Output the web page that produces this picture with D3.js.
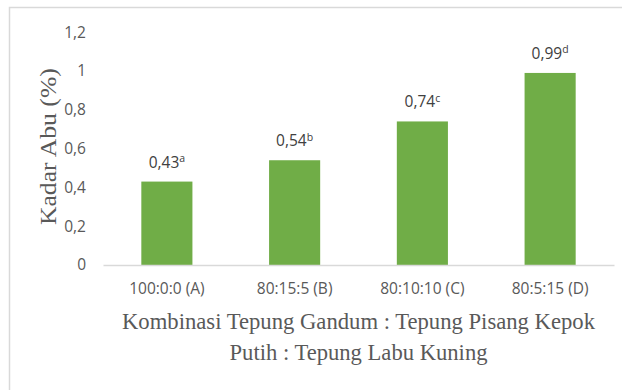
<!DOCTYPE html>
<html>
<head>
<meta charset="utf-8">
<script src="https://cdn.jsdelivr.net/npm/d3@7"></script>
<style>
  html, body { margin: 0; padding: 0; background: #fff; }
  svg { display: block; }
</style>
</head>
<body>
<div id="chart"></div>
<script>
// Ash content per flour combination
const categories = ["100:0:0 (A)", "80:15:5 (B)", "80:10:10 (C)", "80:5:15 (D)"];
const values = [0.43, 0.54, 0.74, 0.99];
const letters = ["a", "b", "c", "d"];
const tickValues = [0, 0.2, 0.4, 0.6, 0.8, 1, 1.2];
const tickLabels = ["0", "0,2", "0,4", "0,6", "0,8", "1", "1,2"];
const yTitle = "Kadar Abu (%)";
const xTitleLines = ["Kombinasi Tepung Gandum : Tepung Pisang Kepok", "Putih : Tepung Labu Kuning"];

const W = 622, H = 390;
const plot = { left: 103, right: 614, top: 32.2, bottom: 265 };

const svg = d3.select("#chart").append("svg")
  .attr("width", W).attr("height", H);

// chart frame
svg.append("rect")
  .attr("x", 9.5).attr("y", 7.5)
  .attr("width", 700).attr("height", 500)
  .attr("fill", "none")
  .attr("stroke", "#d9d9d9").attr("stroke-width", 1.5);

const x = d3.scaleBand()
  .domain(categories)
  .range([plot.left, plot.right])
  .paddingInner(0.6)
  .paddingOuter(0.3);

const y = d3.scaleLinear()
  .domain([0, 1.2])
  .range([plot.bottom, plot.top]);

const sans = "'Open Sans', 'Noto Sans', sans-serif";
const serif = "'Liberation Serif', 'Times New Roman', serif";

// y axis labels (no axis line, no gridlines)
const yAxis = d3.axisLeft(y)
  .tickValues(tickValues)
  .tickFormat((d, i) => tickLabels[i])
  .tickSize(0)
  .tickPadding(17);

const gy = svg.append("g")
  .attr("transform", `translate(${plot.left},0)`)
  .call(yAxis);
gy.select(".domain").remove();
gy.selectAll("text")
  .attr("font-family", sans)
  .attr("font-size", 15.5)
  .attr("fill", "#595959");

// bars
svg.append("g").selectAll("rect")
  .data(values)
  .join("rect")
  .attr("x", (d, i) => x(categories[i]))
  .attr("y", d => y(d))
  .attr("width", x.bandwidth())
  .attr("height", d => y(0) - y(d))
  .attr("fill", "#70ad47");

// category axis
const xAxis = d3.axisBottom(x).tickSize(0).tickPadding(18);
const gx = svg.append("g")
  .attr("transform", `translate(0,${plot.bottom})`)
  .call(xAxis);
gx.select(".domain")
  .attr("stroke", "#d9d9d9")
  .attr("stroke-width", 1.5);
gx.selectAll("text")
  .attr("font-family", sans)
  .attr("font-size", 15.5)
  .attr("fill", "#595959");

// value labels with significance letters
const lab = svg.append("g").selectAll("text")
  .data(values)
  .join("text")
  .attr("x", (d, i) => x(categories[i]) + x.bandwidth() / 2)
  .attr("y", d => y(d) - 14)
  .attr("text-anchor", "middle")
  .attr("font-family", sans)
  .attr("font-size", 15.5)
  .attr("fill", "#404040");
lab.append("tspan").text(d => d.toFixed(2).replace(".", ","));
lab.append("tspan")
  .attr("font-size", 10.5)
  .attr("dy", -5.5)
  .text((d, i) => letters[i]);

// y title (slightly condensed serif)
svg.append("text")
  .attr("transform", `translate(56,${(plot.top + plot.bottom) / 2 - 2}) rotate(-90)`)
  .attr("text-anchor", "middle")
  .attr("font-family", serif)
  .attr("font-size", 23.5)
  .attr("fill", "#595959")
  .attr("textLength", 157)
  .attr("lengthAdjust", "spacingAndGlyphs")
  .text(yTitle);

// x title, two centred lines
const cx = (plot.left + plot.right) / 2;
const titleWidths = [473, 258];
svg.append("g").selectAll("text")
  .data(xTitleLines)
  .join("text")
  .attr("x", cx)
  .attr("y", (d, i) => 329 + i * 31)
  .attr("text-anchor", "middle")
  .attr("font-family", serif)
  .attr("font-size", 23.5)
  .attr("fill", "#595959")
  .attr("textLength", (d, i) => titleWidths[i])
  .attr("lengthAdjust", "spacingAndGlyphs")
  .text(d => d);
</script>
</body>
</html>
